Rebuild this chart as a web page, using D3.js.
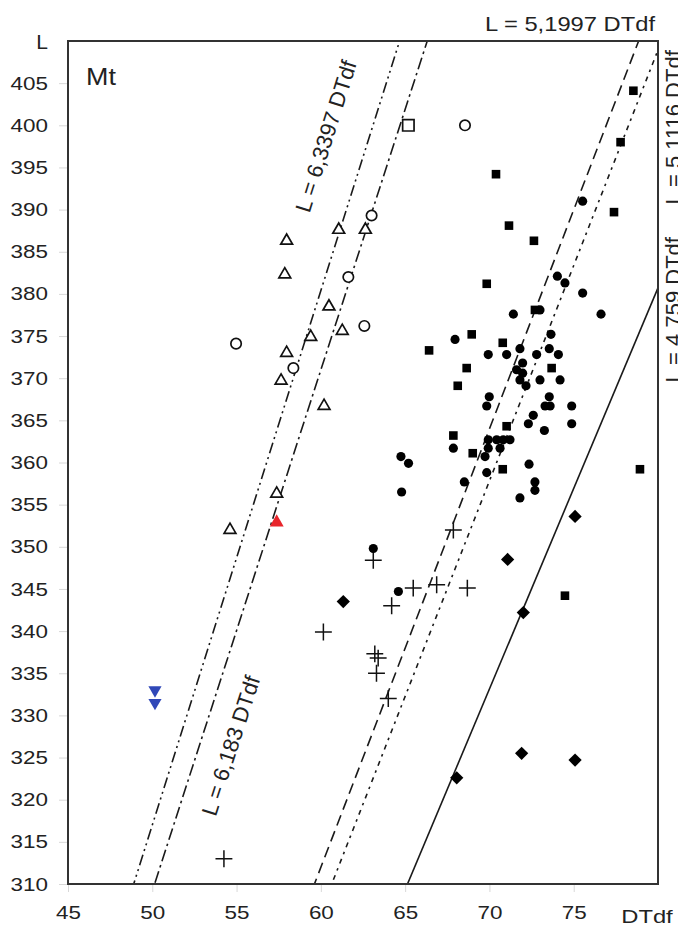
<!DOCTYPE html>
<html>
<head>
<meta charset="utf-8">
<script src="https://cdn.jsdelivr.net/npm/d3@7"></script>
<style>
  body { margin: 0; background: #fff; }
  svg text { font-family: "Liberation Sans", Arial, sans-serif; fill: #222; }
</style>
</head>
<body>
<svg id="chart" width="678" height="936"></svg>
<script>
// ---- data (DTdf, L) ----
const xTicks = [45, 50, 55, 60, 65, 70, 75];
const yTicks = [310, 315, 320, 325, 330, 335, 340, 345, 350, 355, 360, 365, 370, 375, 380, 385, 390, 395, 400, 405];

const lineSlopes = [6.3397, 6.183, 5.1997, 5.1116, 4.759];
const lineLabels = ["L = 6,3397 DTdf", "L = 6,183 DTdf", "L = 5,1997 DTdf", "L = 5,1116 DTdf", "L = 4,759 DTdf"];

const openTriangles = [
  [57.97, 386.3], [57.86, 382.3], [61.06, 387.6], [62.64, 387.6], [60.48, 378.5],
  [61.27, 375.6], [59.40, 374.9], [57.97, 373.0], [57.64, 369.7], [60.19, 366.7],
  [57.38, 356.3], [54.61, 352.0]
];
const openCircles = [
  [63.01, 389.3], [61.63, 382.0], [62.58, 376.2], [54.97, 374.1], [58.37, 371.2], [68.55, 400.0]
];
const openSquares = [[65.19, 400.0]];
const redTriangles = [[57.38, 352.9]];
const blueTriangles = [[50.16, 333.0], [50.16, 331.5]];
const crosses = [
  [63.11, 348.4], [60.15, 339.9], [67.86, 352.0], [65.48, 345.1], [66.87, 345.5],
  [68.69, 345.1], [64.20, 343.0], [64.00, 332.0], [63.2, 337.3], [63.4, 336.8],
  [63.3, 335.0], [54.25, 313.0]
];
const diamonds = [
  [75.08, 353.6], [71.08, 348.5], [72.01, 342.2], [68.06, 322.6], [71.91, 325.5],
  [75.08, 324.7], [61.33, 343.5]
];
const filledSquares = [
  [70.39, 394.2], [77.39, 389.7], [71.16, 388.1], [72.64, 386.3], [69.84, 381.2],
  [72.70, 378.1], [68.95, 375.2], [66.42, 373.3], [70.79, 374.2], [68.65, 371.2],
  [73.69, 371.2], [68.12, 369.1], [71.02, 364.3], [67.86, 363.2], [69.01, 361.1],
  [70.79, 359.2], [78.93, 359.2], [78.54, 404.1], [77.78, 398.0], [74.48, 344.2]
];
const filledCircles = [
  [75.53, 391.0], [74.03, 382.1], [74.48, 381.3], [75.53, 380.1], [76.62, 377.6],
  [71.42, 377.6], [73.00, 378.1], [67.96, 374.6], [73.65, 375.2], [73.55, 373.5],
  [74.09, 372.8], [69.93, 372.8], [71.02, 372.8], [71.81, 373.5], [72.80, 372.8],
  [71.97, 371.8], [71.61, 371.0], [71.97, 370.6], [71.81, 369.8], [72.17, 369.1],
  [73.00, 369.8], [74.19, 369.8], [69.99, 367.8], [69.84, 366.7], [73.55, 367.8],
  [73.30, 366.7], [73.60, 366.7], [74.88, 366.7], [72.60, 365.6], [72.31, 364.6],
  [74.88, 364.6], [73.26, 363.8], [69.93, 362.7], [70.43, 362.7], [70.82, 362.7],
  [71.22, 362.7], [69.93, 361.7], [70.63, 361.7], [67.86, 361.7], [69.74, 360.7],
  [72.35, 359.8], [69.84, 358.8], [68.51, 357.7], [72.70, 357.7], [72.70, 356.7],
  [71.81, 355.8], [64.79, 356.5], [64.75, 360.7], [65.2, 359.9], [63.11, 349.8],
  [64.6, 344.7]
];

// ---- layout ----
const W = 678, H = 936;
const margin = { top: 41, right: 20, bottom: 52, left: 68 };
const svg = d3.select('#chart');

const x = d3.scaleLinear().domain([45, 80]).range([margin.left, W - margin.right]);
const y = d3.scaleLinear().domain([310, 410]).range([H - margin.bottom, margin.top]);

// the source figure is a bit stretched sideways: widen horizontal text to match
function stretch(sel, f) {
  sel.each(function () {
    const len = this.getComputedTextLength();
    d3.select(this).attr('textLength', len * f).attr('lengthAdjust', 'spacingAndGlyphs');
  });
}

svg.append('defs').append('clipPath').attr('id', 'plot-clip')
  .append('rect')
  .attr('x', x(45)).attr('y', y(410))
  .attr('width', x(80) - x(45)).attr('height', y(310) - y(410));

// axes (faint ticks outside the frame)
const yAxis = svg.append('g')
  .attr('transform', `translate(${margin.left},0)`)
  .call(d3.axisLeft(y).tickValues(yTicks).tickSize(9).tickPadding(11));
const xAxis = svg.append('g')
  .attr('transform', `translate(0,${H - margin.bottom})`)
  .call(d3.axisBottom(x).tickValues(xTicks).tickSize(8).tickPadding(14));

[yAxis, xAxis].forEach(g => {
  g.select('.domain').remove();
  g.selectAll('.tick line').attr('stroke', '#d8d8d8').attr('stroke-width', 1);
  g.selectAll('.tick text').attr('font-size', 19).attr('fill', '#2a2a2a')
    .style('font-family', '"Liberation Sans", Arial, sans-serif')
    .call(stretch, 1.18);
});

// axis names
svg.append('text').attr('x', x(80) - 11).attr('y', y(310) + 39)
  .attr('text-anchor', 'middle').attr('font-size', 19).text('DTdf')
  .call(stretch, 1.25);
svg.append('text').attr('x', 42).attr('y', y(410) + 8)
  .attr('text-anchor', 'middle').attr('font-size', 21).text('L');
svg.append('text').attr('x', 86).attr('y', y(404.8))
  .attr('font-size', 24).text('Mt')
  .call(stretch, 1.12);

// ---- reference lines ----
const lineStyles = [
  { dash: '11,4,2,4,2,4' },   // dash-dot-dot
  { dash: '12,4,2.5,4' },     // dash-dot
  { dash: '11,6' },           // dashed
  { dash: '2.5,5,5,5' },      // dotted
  { dash: null }              // solid
];

const plot = svg.append('g').attr('clip-path', 'url(#plot-clip)');
const lineGen = d3.line().x(d => x(d[0])).y(d => y(d[1]));

lineSlopes.forEach((k, i) => {
  const pts = [[300 / k, 300], [420 / k, 420]];
  plot.append('path')
    .attr('d', lineGen(pts))
    .attr('fill', 'none')
    .attr('stroke', '#1a1a1a')
    .attr('stroke-width', 1.6)
    .attr('stroke-dasharray', lineStyles[i].dash);
});

const angleOf = k => Math.atan2(y(410) - y(310), x(410 / k) - x(310 / k)) * 180 / Math.PI;

// rotated labels along the two left lines
svg.append('text')
  .attr('transform', `translate(${x(60.3)},${y(398.7)}) rotate(${angleOf(lineSlopes[0])})`)
  .attr('text-anchor', 'middle').attr('dy', '0.35em').attr('font-size', 22)
  .text(lineLabels[0]);
svg.append('text')
  .attr('transform', `translate(${x(54.65)},${y(326.4)}) rotate(${angleOf(lineSlopes[1])})`)
  .attr('text-anchor', 'middle').attr('dy', '0.35em').attr('font-size', 22)
  .text(lineLabels[1]);
// top label
svg.append('text').attr('x', 655).attr('y', 31)
  .attr('text-anchor', 'end').attr('font-size', 21).text(lineLabels[2])
  .call(stretch, 1.13);
// labels on the right border, cut by the page edge as in the source
svg.append('text')
  .attr('transform', `translate(681,${y(390.6)}) rotate(-90)`)
  .attr('font-size', 22).text(lineLabels[3]);
svg.append('text')
  .attr('transform', `translate(681,${y(369.5)}) rotate(-90)`)
  .attr('font-size', 22).text(lineLabels[4]);

// ---- markers ----
const sym = (type, size) => d3.symbol().type(type).size(size)();
const marks = svg.append('g');

function drawSeries(data, path, style, rot = 0) {
  marks.append('g').selectAll('path')
    .data(data)
    .join('path')
    .attr('transform', d => `translate(${x(d[0])},${y(d[1])}) rotate(${rot})`)
    .attr('d', path)
    .attr('fill', style.fill || 'none')
    .attr('stroke', style.stroke || 'none')
    .attr('stroke-width', style.sw || 0);
}

drawSeries(openTriangles, sym(d3.symbolTriangle2, 100), { stroke: '#111', sw: 1.7, fill: '#fff' });
drawSeries(openCircles, sym(d3.symbolCircle, 85), { stroke: '#111', sw: 1.7, fill: '#fff' });
drawSeries(openSquares, sym(d3.symbolSquare, 130), { stroke: '#111', sw: 1.7, fill: '#fff' });
drawSeries(crosses, sym(d3.symbolPlus, 95), { stroke: '#111', sw: 1.5 });
drawSeries(filledSquares, sym(d3.symbolSquare, 74), { fill: '#000' });
drawSeries(filledCircles, sym(d3.symbolCircle, 66), { fill: '#000' });
drawSeries(diamonds, sym(d3.symbolSquare, 88), { fill: '#000' }, 45);
drawSeries(redTriangles, sym(d3.symbolTriangle, 85), { fill: '#e8252b' });
drawSeries(blueTriangles, sym(d3.symbolTriangle, 75), { fill: '#3048b8' }, 180);

// frame
svg.append('rect')
  .attr('x', x(45)).attr('y', y(410))
  .attr('width', x(80) - x(45)).attr('height', y(310) - y(410))
  .attr('fill', 'none').attr('stroke', '#333').attr('stroke-width', 2);
</script>
</body>
</html>
